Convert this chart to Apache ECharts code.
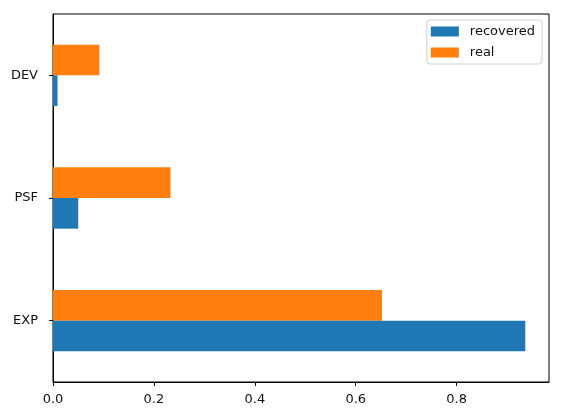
<!DOCTYPE html>
<html>
<head>
<meta charset="utf-8">
<script src="https://cdn.jsdelivr.net/npm/echarts@6/dist/echarts.min.js"></script>
<style>
  html, body { margin: 0; padding: 0; background: #fff; }
  #main { width: 562px; height: 416px; }
</style>
</head>
<body>
<div id="main"></div>
<script>
// categories bottom to top
const categories = ['EXP', 'PSF', 'DEV'];
const recovered = [0.936, 0.050, 0.009];
const real = [0.652, 0.233, 0.092];
const xTicks = [0, 0.2, 0.4, 0.6, 0.8];

const myChart = echarts.init(document.getElementById('main'));
const font = 'DejaVu Sans';

const option = {
    animation: false,
    backgroundColor: '#fff',
    grid: {
        left: 53,
        right: 13,
        top: 14,
        bottom: 34,
        show: true,
        borderColor: '#000',
        borderWidth: 1,
        backgroundColor: 'transparent'
    },
    legend: {
        orient: 'vertical',
        right: 20,
        top: 20,
        icon: 'rect',
        itemWidth: 28,
        itemHeight: 10,
        itemGap: 8,
        padding: [5, 7, 5, 4],
        borderColor: '#d0d0d0',
        borderWidth: 1,
        borderRadius: 3,
        backgroundColor: 'rgba(255,255,255,0.8)',
        textStyle: { fontFamily: font, fontSize: 13, color: '#111', padding: [0, 0, 0, 6] },
        data: ['recovered', 'real']
    },
    xAxis: {
        type: 'value',
        min: 0,
        max: 0.983,
        interval: 0.2,
        splitLine: { show: false },
        axisLine: { show: true, lineStyle: { color: '#000', width: 1 } },
        axisTick: { show: true, length: 4, lineStyle: { color: '#000' } },
        axisLabel: {
            showMaxLabel: false,
            margin: 11,
            fontFamily: font, fontSize: 13, color: '#111',
            formatter: v => xTicks.some(t => Math.abs(t - v) < 1e-6) ? v.toFixed(1) : ''
        }
    },
    yAxis: {
        type: 'category',
        data: categories,
        axisLine: { show: true, lineStyle: { color: '#000', width: 1 } },
        axisTick: { show: true, alignWithLabel: true, length: 4, lineStyle: { color: '#000' } },
        axisLabel: { margin: 15, fontFamily: font, fontSize: 13, color: '#111' }
    },
    // real listed first so that it sits above recovered in each band
    series: [
        {
            name: 'real',
            type: 'bar',
            data: real,
            barWidth: '25%',
            barGap: '0%',
            itemStyle: { color: '#ff7f0e' }
        },
        {
            name: 'recovered',
            type: 'bar',
            data: recovered,
            barWidth: '25%',
            barGap: '0%',
            itemStyle: { color: '#1f77b4' }
        }
    ]
};

myChart.setOption(option);
</script>
</body>
</html>
